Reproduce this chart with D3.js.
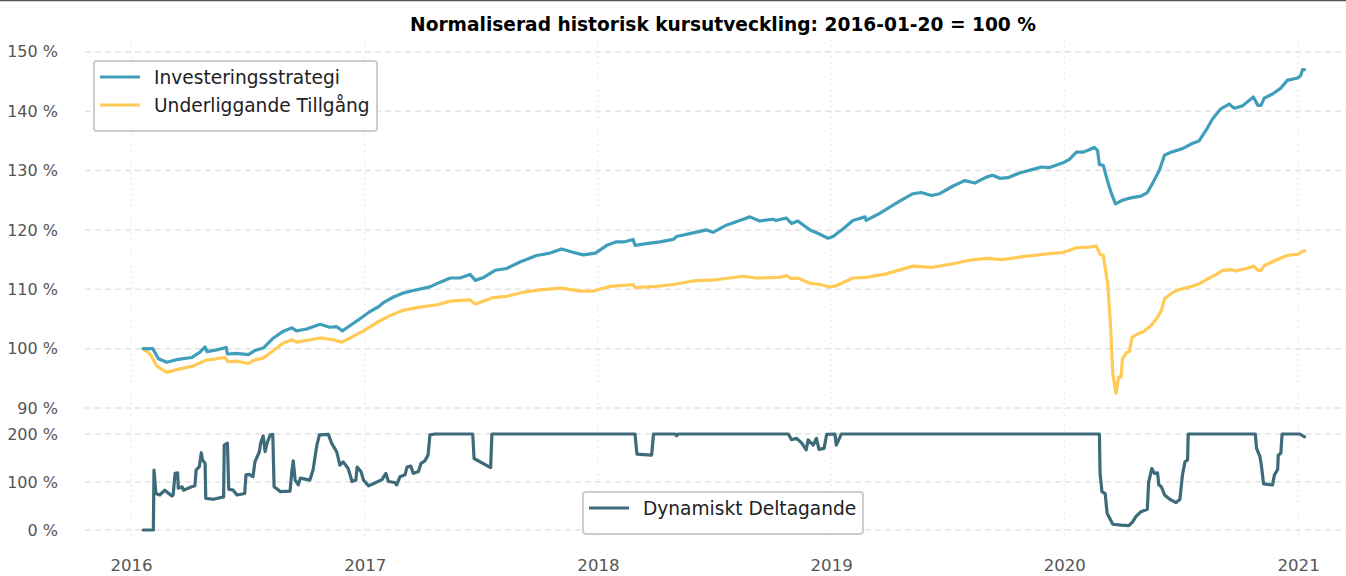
<!DOCTYPE html>
<html>
<head>
<meta charset="utf-8">
<script src="https://cdn.jsdelivr.net/npm/d3@7"></script>
<style>
  body { margin: 0; background: #fff; }
  svg { font-family: "DejaVu Sans", sans-serif; }
</style>
</head>
<body>
<svg width="1346" height="576"></svg>
<script>
// kursutveckling, normaliserad till 100 % den 2016-01-20
var strategiDatum = ["2016-01-20","2016-02-04","2016-02-13","2016-02-26","2016-03-15","2016-04-05","2016-04-18","2016-04-26","2016-04-29","2016-05-14","2016-05-29","2016-05-31","2016-06-14","2016-07-03","2016-07-13","2016-07-26","2016-08-11","2016-08-26","2016-09-09","2016-09-16","2016-10-02","2016-10-23","2016-11-07","2016-11-18","2016-11-27","2016-12-09","2016-12-24",
  "2017-01-07","2017-01-23","2017-01-31","2017-02-15","2017-03-03","2017-03-18","2017-04-13","2017-04-29","2017-05-15","2017-05-30","2017-06-15","2017-06-23","2017-07-06","2017-07-24","2017-08-11","2017-09-01","2017-09-27","2017-10-18","2017-11-05","2017-11-24","2017-12-09","2017-12-28",
  "2018-01-15","2018-01-30","2018-02-12","2018-02-25","2018-02-28","2018-03-18","2018-04-08","2018-04-29","2018-05-04","2018-05-30","2018-06-20","2018-06-30","2018-07-21","2018-08-11","2018-08-27","2018-09-11","2018-10-02","2018-10-07","2018-10-23","2018-10-31","2018-11-10","2018-11-29","2018-12-12","2018-12-27",
  "2019-01-04","2019-01-20","2019-02-04","2019-02-23","2019-02-25","2019-03-18","2019-04-13","2019-05-09","2019-05-22","2019-06-07","2019-06-20","2019-07-11","2019-07-29","2019-08-14","2019-09-01","2019-09-11","2019-09-22","2019-10-05","2019-10-23","2019-11-13","2019-11-26","2019-12-09","2019-12-30",
  "2020-01-09","2020-01-20","2020-01-30","2020-02-09","2020-02-17","2020-02-22","2020-02-25","2020-03-02","2020-03-09","2020-03-14","2020-03-21","2020-04-01","2020-04-14","2020-04-30","2020-05-10","2020-05-18","2020-05-29","2020-06-06","2020-06-16","2020-07-04","2020-07-20","2020-07-30","2020-08-10","2020-08-20","2020-09-02","2020-09-15","2020-09-23","2020-10-06","2020-10-23","2020-10-30","2020-11-04","2020-11-09","2020-11-22","2020-12-05","2020-12-15","2020-12-31",
  "2021-01-05","2021-01-08","2021-01-11"];
var strategiVarden = [100,100,98.3,97.7,98.2,98.5,99.4,100.3,99.5,99.8,100.2,99.1,99.2,99.0,99.7,100.1,101.8,102.9,103.5,103.0,103.3,104.1,103.6,103.7,103.0,103.9,105.0,
  106.1,107.1,107.8,108.7,109.4,109.8,110.4,111.2,111.9,111.9,112.5,111.5,112.0,113.2,113.5,114.6,115.7,116.1,116.8,116.2,115.8,116.1,
  117.4,118.0,118.0,118.4,117.4,117.7,118.0,118.4,118.9,119.5,120.0,119.6,120.8,121.6,122.2,121.5,121.8,121.6,122.0,121.1,121.5,120.0,119.4,118.6,
  118.9,120.2,121.6,122.2,121.6,122.8,124.5,126.1,126.3,125.8,126.1,127.4,128.3,127.9,128.9,129.2,128.7,128.8,129.6,130.2,130.6,130.5,131.3,
  131.9,133.1,133.1,133.5,133.9,133.4,131.0,130.9,128.1,126.4,124.4,125.0,125.4,125.7,126.3,127.8,130.1,132.6,133.1,133.7,134.6,135.0,136.8,138.7,140.4,141.2,140.5,140.9,142.4,141.0,141.0,142.2,142.9,143.9,145.2,145.6,
  146.0,147.0,147.0];

var tillgangDatum = ["2016-01-20","2016-01-31","2016-02-10","2016-02-26","2016-03-18","2016-04-08","2016-04-26","2016-05-14","2016-05-27","2016-06-01","2016-06-14","2016-07-03","2016-07-13","2016-07-26","2016-08-11","2016-08-26","2016-09-09","2016-09-16","2016-10-23","2016-11-12","2016-11-26","2016-12-09","2016-12-30",
  "2017-01-20","2017-02-10","2017-03-03","2017-03-29","2017-04-24","2017-05-15","2017-06-15","2017-06-23","2017-07-21","2017-08-11","2017-09-06","2017-10-02","2017-11-05","2017-12-04","2017-12-25",
  "2018-01-20","2018-02-25","2018-02-28","2018-04-03","2018-04-29","2018-05-30","2018-07-05","2018-08-16","2018-09-06","2018-10-12","2018-10-23","2018-10-31","2018-11-10","2018-11-29","2018-12-15","2018-12-29",
  "2019-01-09","2019-02-04","2019-02-25","2019-03-28","2019-05-09","2019-06-08","2019-07-11","2019-08-06","2019-09-01","2019-09-26","2019-10-28","2019-12-09","2019-12-30",
  "2020-01-20","2020-02-09","2020-02-20","2020-02-26","2020-03-02","2020-03-09","2020-03-13","2020-03-17","2020-03-22","2020-03-26","2020-03-30","2020-04-01","2020-04-08","2020-04-12","2020-04-16","2020-04-25","2020-05-03","2020-05-16","2020-05-26","2020-06-01","2020-06-06","2020-06-14","2020-06-24","2020-07-15","2020-07-30","2020-08-10","2020-08-26","2020-09-05","2020-09-18","2020-09-26","2020-10-12","2020-10-24","2020-10-30","2020-11-04","2020-11-09","2020-11-27","2020-12-15","2020-12-31",
  "2021-01-08","2021-01-11"];
var tillgangVarden = [100,99.1,97.1,96.0,96.6,97.1,98.0,98.3,98.5,97.8,97.9,97.5,98.1,98.4,99.7,100.9,101.5,101.1,101.8,101.5,101.1,101.8,103.0,
  104.4,105.6,106.5,107.0,107.4,108.0,108.2,107.5,108.6,108.8,109.5,109.9,110.2,109.7,109.7,
  110.5,110.8,110.3,110.5,110.8,111.4,111.6,112.2,111.9,112.0,112.3,111.8,111.9,111.0,110.8,110.4,
  110.6,111.9,112.0,112.6,113.9,113.7,114.3,114.9,115.2,115.0,115.5,116.0,116.2,
  117.0,117.1,117.3,115.9,115.7,110.9,104.7,95.7,92.5,95.2,95.2,98.3,99.4,99.5,101.9,102.5,102.8,103.9,105.3,106.4,108.4,109.1,109.8,110.4,110.9,111.6,112.5,113.2,113.3,113.1,113.5,113.9,113.2,113.2,114.0,114.9,115.7,115.9,
  116.4,116.5];

// dynamiskt deltagande i procent
var deltaDatum = ["2016-01-20","2016-02-05","2016-02-06","2016-02-09","2016-02-15","2016-02-23","2016-03-05","2016-03-07","2016-03-10","2016-03-14","2016-03-15","2016-03-21","2016-03-23","2016-04-05","2016-04-10","2016-04-12","2016-04-17","2016-04-20","2016-04-22","2016-04-26","2016-04-27","2016-05-09","2016-05-25","2016-05-26","2016-05-31","2016-06-02","2016-06-09","2016-06-15","2016-06-27","2016-06-29","2016-07-04","2016-07-10","2016-07-13","2016-07-20","2016-07-22","2016-07-26","2016-07-29","2016-08-01","2016-08-06","2016-08-10","2016-08-12","2016-08-22","2016-09-06","2016-09-09","2016-09-11","2016-09-14","2016-09-19","2016-09-22","2016-10-07","2016-10-12","2016-10-18","2016-10-22","2016-11-05","2016-11-10","2016-11-18","2016-11-23","2016-11-28","2016-12-06","2016-12-12","2016-12-18","2016-12-20","2016-12-26","2016-12-30",
  "2017-01-07","2017-01-15","2017-01-28","2017-02-03","2017-02-07","2017-02-17","2017-02-20","2017-02-25","2017-03-05","2017-03-08","2017-03-14","2017-03-18","2017-03-26","2017-03-30","2017-04-05","2017-04-10","2017-04-13","2017-04-21","2017-06-19","2017-06-21","2017-07-17","2017-07-19",
  "2018-02-28","2018-03-03","2018-03-26","2018-03-29","2018-05-02","2018-05-04","2018-05-07","2018-10-26","2018-10-31","2018-11-08","2018-11-16","2018-11-23","2018-11-26","2018-12-04","2018-12-09","2018-12-13","2018-12-21","2018-12-25",
  "2019-01-07","2019-01-09","2019-01-14","2019-01-17",
  "2020-02-25","2020-02-26","2020-02-29","2020-03-05","2020-03-08","2020-03-17","2020-03-30","2020-04-11","2020-04-17","2020-04-22","2020-04-30","2020-05-10","2020-05-12","2020-05-17","2020-05-21","2020-05-26","2020-05-28","2020-06-01","2020-06-06","2020-06-14","2020-06-24","2020-06-30","2020-07-04","2020-07-08","2020-07-12","2020-07-13","2020-10-26","2020-10-28","2020-11-02","2020-11-04","2020-11-08","2020-11-22","2020-11-25","2020-11-30","2020-12-01","2020-12-05","2020-12-07",
  "2021-01-04","2021-01-11"];
var deltaVarden = [0,0,125,76,73,83,71,73,118,119,87,90,83,90,92,125,132,161,146,139,66,64,69,177,181,85,83,73,76,115,116,111,142,163,181,196,163,181,198,199,90,80,81,125,144,104,94,108,104,125,177,198,199,181,163,135,142,128,101,104,131,122,104,
  92,97,105,118,101,99,94,111,115,131,133,118,122,139,144,156,198,200,200,149,130,200,
  200,158,156,200,200,196,200,200,188,191,181,167,188,177,191,168,170,199,
  200,177,191,200,
  200,118,80,76,35,12,10,9,17,28,38,43,99,128,118,119,94,90,73,64,57,64,115,142,146,200,200,170,154,140,96,94,115,126,156,160,200,
  200,194];

var yTicksTop = [90, 100, 110, 120, 130, 140, 150];
var yTicksBottom = [0, 100, 200];
var xTickYears = [2016, 2017, 2018, 2019, 2020, 2021];

var parse = d3.timeParse("%Y-%m-%d");
function zip(dates, vals) {
    return dates.map(function (d, i) { return {date: parse(d), v: vals[i]}; });
}
var strategi = zip(strategiDatum, strategiVarden);
var tillgang = zip(tillgangDatum, tillgangVarden);
var delta = zip(deltaDatum, deltaVarden);

var svg = d3.select("svg");
var width = +svg.attr("width");

var left = 85, right = 1346;
var top1 = 40, bottom1 = 416;
var top2 = 424, bottom2 = 540;

var xScale = d3.scaleTime()
        .domain([d3.timeDay.offset(new Date(2016, 0, 1), -71.5), d3.timeDay.offset(new Date(2021, 0, 1), 75)])
        .range([left, right]);
var yTop = d3.scaleLinear().domain([88.65, 152.0]).range([bottom1, top1]);
var yBot = d3.scaleLinear().domain([-20.8, 220.8]).range([bottom2, top2]);

// ram overst
svg.append("line")
        .attr("x1", 0).attr("x2", width)
        .attr("y1", 0.5).attr("y2", 0.5)
        .attr("stroke", "#555").attr("stroke-width", 1.5);

svg.append("text")
        .attr("x", 723).attr("y", 31)
        .attr("text-anchor", "middle")
        .attr("font-weight", "bold")
        .attr("font-size", "18.6px")
        .attr("fill", "#000")
        .text("Normaliserad historisk kursutveckling: 2016-01-20 = 100 %");

var tickColor = "#555";
var gridColor = "#e3e3e3";

// vertikala rutnatslinjer (prickade)
var xTickDates = xTickYears.map(function (y) { return new Date(y, 0, 1); });
[[top1, bottom1], [top2, bottom2]].forEach(function (r) {
    svg.append("g").selectAll("line")
            .data(xTickDates).enter().append("line")
            .attr("x1", function (d) { return xScale(d); })
            .attr("x2", function (d) { return xScale(d); })
            .attr("y1", r[0]).attr("y2", r[1])
            .attr("stroke", gridColor)
            .attr("stroke-width", 1.2)
            .attr("stroke-dasharray", "1.5,4");
});

// horisontella rutnatslinjer (streckade)
svg.append("g").selectAll("line")
        .data(yTicksTop).enter().append("line")
        .attr("x1", left).attr("x2", right)
        .attr("y1", function (d) { return yTop(d); })
        .attr("y2", function (d) { return yTop(d); })
        .attr("stroke", gridColor).attr("stroke-width", 1.5)
        .attr("stroke-dasharray", "6,4");
svg.append("g").selectAll("line")
        .data(yTicksBottom).enter().append("line")
        .attr("x1", left).attr("x2", right)
        .attr("y1", function (d) { return yBot(d); })
        .attr("y2", function (d) { return yBot(d); })
        .attr("stroke", gridColor).attr("stroke-width", 1.5)
        .attr("stroke-dasharray", "6,4");

// axlar
function styleAxis(g) {
    g.select(".domain").remove();
    g.selectAll(".tick line").remove();
    g.selectAll("text")
            .attr("fill", tickColor)
            .attr("font-size", "16px")
            .attr("font-family", "DejaVu Sans, sans-serif");
}
var pct = function (d) { return d + " %"; };
svg.append("g")
        .attr("transform", "translate(" + (left - 24) + ",0)")
        .call(d3.axisLeft(yTop).tickValues(yTicksTop).tickFormat(pct).tickSize(0))
        .call(styleAxis);
svg.append("g")
        .attr("transform", "translate(" + (left - 24) + ",0)")
        .call(d3.axisLeft(yBot).tickValues(yTicksBottom).tickFormat(pct).tickSize(0))
        .call(styleAxis);
svg.append("g")
        .attr("transform", "translate(0," + (bottom2 + 16) + ")")
        .call(d3.axisBottom(xScale).tickValues(xTickDates).tickFormat(d3.timeFormat("%Y")).tickSize(0))
        .call(styleAxis)
        .selectAll("text").attr("font-size", "16.6px");

// linjer
var blue = "#3f9fba", yellow = "#ffca55", teal = "#3d6b7a";
var lineTop = d3.line()
        .x(function (d) { return xScale(d.date); })
        .y(function (d) { return yTop(d.v); });
var lineBot = d3.line()
        .x(function (d) { return xScale(d.date); })
        .y(function (d) { return yBot(d.v); });

svg.append("path").datum(tillgang)
        .attr("d", lineTop).attr("fill", "none")
        .attr("stroke", yellow).attr("stroke-width", 3.2)
        .attr("stroke-linejoin", "round").attr("stroke-linecap", "round");
svg.append("path").datum(strategi)
        .attr("d", lineTop).attr("fill", "none")
        .attr("stroke", blue).attr("stroke-width", 3.2)
        .attr("stroke-linejoin", "round").attr("stroke-linecap", "round");
svg.append("path").datum(delta)
        .attr("d", lineBot).attr("fill", "none")
        .attr("stroke", teal).attr("stroke-width", 3.2)
        .attr("stroke-linejoin", "round").attr("stroke-linecap", "round");

// legender
function legend(x, y, w, items) {
    var h = 14 + items.length * 28;
    var g = svg.append("g").attr("transform", "translate(" + x + "," + y + ")");
    g.append("rect")
            .attr("width", w).attr("height", h)
            .attr("rx", 3).attr("ry", 3)
            .attr("fill", "#fff").attr("fill-opacity", 0.85)
            .attr("stroke", "#cccccc").attr("stroke-width", 2);
    items.forEach(function (it, i) {
        var cy = 16 + i * 28;
        g.append("line")
                .attr("x1", 6).attr("x2", 46)
                .attr("y1", cy).attr("y2", cy)
                .attr("stroke", it.color).attr("stroke-width", 3);
        g.append("text")
                .attr("x", 60).attr("y", cy)
                .attr("dy", "0.35em")
                .attr("font-size", "18.6px")
                .attr("fill", "#222")
                .text(it.label);
    });
}
legend(94, 61, 283, [
    {label: "Investeringsstrategi", color: blue},
    {label: "Underliggande Tillgång", color: yellow}
]);
legend(583, 492, 280, [
    {label: "Dynamiskt Deltagande", color: teal}
]);
</script>
</body>
</html>
